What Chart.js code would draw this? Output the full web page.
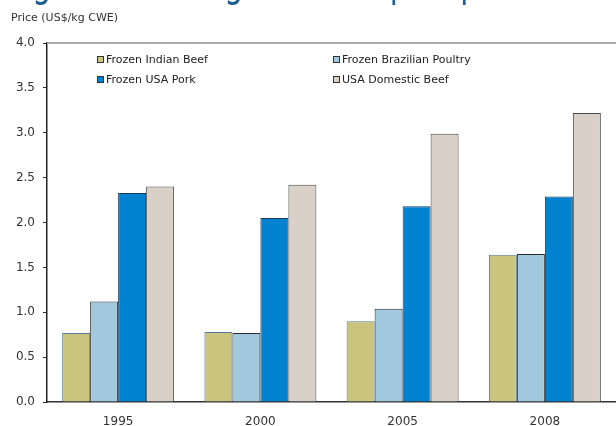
<!DOCTYPE html>
<html>
<head>
<meta charset="utf-8">
<script src="https://cdn.jsdelivr.net/npm/chart.js@4.4.1/dist/chart.umd.min.js"></script>
<style>
  html, body { margin: 0; padding: 0; background: #ffffff; }
  #wrap { width: 616px; height: 426px; position: relative; }
</style>
</head>
<body>
<div id="wrap"><canvas id="chart" width="616" height="426"></canvas></div>
<script>
// Export price comparison, US$/kg carcass weight equivalent
const years = ['1995', '2000', '2005', '2008'];
const frozenIndianBeef = [0.77, 0.78, 0.90, 1.64];
const frozenBrazilianPoultry = [1.12, 0.77, 1.04, 1.65];
const frozenUsaPork = [2.33, 2.05, 2.18, 2.29];
const usaDomesticBeef = [2.40, 2.42, 2.99, 3.22];
const seriesNames = ['Frozen Indian Beef', 'Frozen Brazilian Poultry', 'Frozen USA Pork', 'USA Domestic Beef'];
const yTicks = [0, 0.5, 1.0, 1.5, 2.0, 2.5, 3.0, 3.5, 4.0];
const titleText = 'Figure 3: Falling Indian export prices';
const axisTitle = 'Price (US$/kg CWE)';

const FONT = '"DejaVu Sans", Verdana, sans-serif';

// Headline (runs off the top edge), axis caption, top frame line and the two-column key
const decorations = {
  id: 'decorations',
  afterDraw(chart) {
    const ctx = chart.ctx;
    const area = chart.chartArea;
    ctx.save();

    ctx.save();
    ctx.translate(9, -4);
    ctx.scale(0.745, 1);
    ctx.fillStyle = '#1d5f8d';
    ctx.font = '40px ' + FONT;
    ctx.textBaseline = 'alphabetic';
    ctx.textAlign = 'left';
    ctx.fillText(titleText, 0, 0);
    ctx.restore();

    ctx.fillStyle = '#333333';
    ctx.font = '11px ' + FONT;
    ctx.textBaseline = 'middle';
    ctx.fillText(axisTitle, 11, 18);

    ctx.strokeStyle = '#aaaaaa';
    ctx.lineWidth = 2;
    ctx.beginPath();
    ctx.moveTo(area.left, area.top);
    ctx.lineTo(area.right, area.top);
    ctx.stroke();

    const cols = [97, 333];
    const rows = [60, 80];
    ctx.font = '11px ' + FONT;
    chart.data.datasets.forEach((ds, i) => {
      const x = cols[i % 2];
      const y = rows[Math.floor(i / 2)];
      ctx.fillStyle = ds.backgroundColor;
      ctx.fillRect(x, y - 4, 7, 7);
      ctx.strokeStyle = '#333333';
      ctx.lineWidth = 1;
      ctx.strokeRect(x + 0.5, y - 3.5, 6, 6);
      ctx.fillStyle = '#222222';
      ctx.fillText(ds.label, x + 9, y);
    });
    ctx.restore();
  }
};

const seriesValues = [frozenIndianBeef, frozenBrazilianPoultry, frozenUsaPork, usaDomesticBeef];
const fills = ['#c9c47e', '#a2c8de', '#0082d0', '#d9d1c8'];
const edges = ['#5a7895', '#2b2b2b', '#1b3a55', '#4a4a4a'];

new Chart(document.getElementById('chart'), {
  type: 'bar',
  data: {
    labels: years,
    datasets: seriesValues.map((vals, i) => ({
      label: seriesNames[i],
      data: vals,
      backgroundColor: fills[i],
      borderColor: edges[i],
      borderWidth: 1,
      categoryPercentage: 0.787,
      barPercentage: 1.0
    }))
  },
  options: {
    responsive: false,
    animation: false,
    layout: { padding: { top: 43, left: 0, right: 0, bottom: 0 } },
    plugins: {
      legend: { display: false },
      title: { display: false },
      tooltip: { enabled: false }
    },
    scales: {
      x: {
        grid: { display: false, drawTicks: false },
        border: { color: '#333333', width: 1.5 },
        ticks: { color: '#333333', font: { family: FONT, size: 12 }, padding: 13 },
        afterFit(scale) { scale.height = 24; }
      },
      y: {
        min: 0,
        max: 4,
        afterBuildTicks(scale) { scale.ticks = yTicks.map(v => ({ value: v })); },
        grid: { drawOnChartArea: false, drawTicks: true, tickLength: 4, color: '#333333' },
        border: { color: '#222222', width: 1.5 },
        ticks: {
          color: '#333333',
          font: { family: FONT, size: 12 },
          padding: 8,
          callback: v => Number(v).toFixed(1)
        },
        afterFit(scale) { scale.width = 47; }
      }
    }
  },
  plugins: [decorations]
});
</script>
</body>
</html>
